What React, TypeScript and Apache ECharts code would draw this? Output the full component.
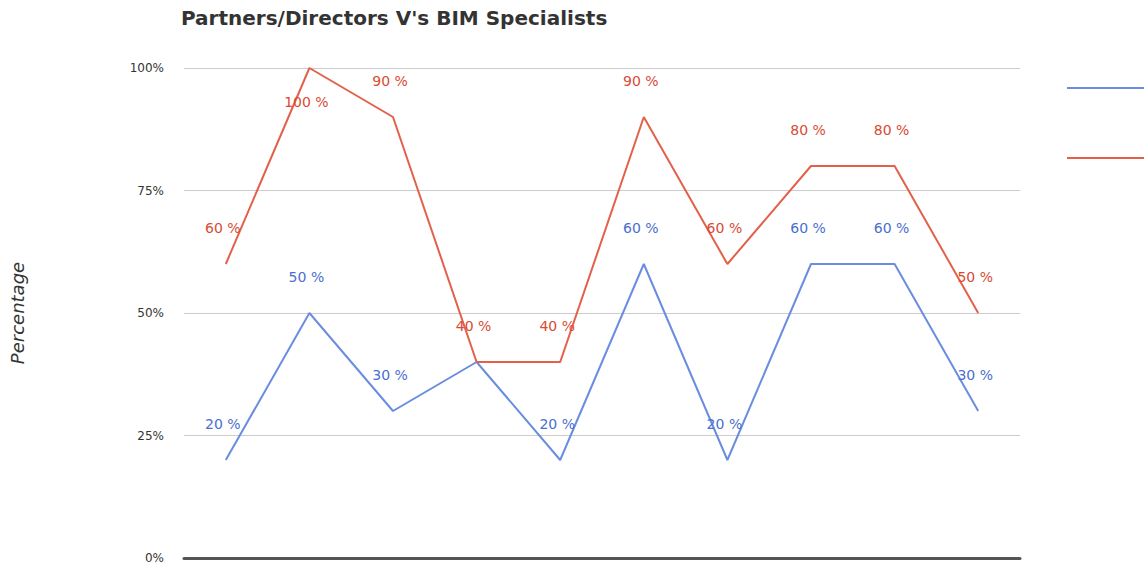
import React, { useEffect, useRef } from "react";
import * as echarts from "echarts";

const categories = ["1", "2", "3", "4", "5", "6", "7", "8", "9", "10"];
const partnersDirectors = [60, 100, 90, 40, 40, 90, 60, 80, 80, 50];
const bimSpecialists = [20, 50, 30, 40, 20, 60, 20, 60, 60, 30];
const yTicks = [0, 25, 50, 75, 100];

const BLUE_LINE = "#6a8de0";
const BLUE_TEXT = "#4a6fcf";
const RED_LINE = "#e3604b";
const RED_TEXT = "#d94a33";

export default function App() {
  const ref = useRef<HTMLDivElement>(null);
  useEffect(() => {
    if (!ref.current) return;
    const chart = echarts.init(ref.current, null, { renderer: "svg" });
    const labelBase = {
      show: true,
      position: "top",
      distance: 29,
      offset: [-3, 0],
      formatter: "{c} %",
      fontSize: 14,
      fontFamily: "DejaVu Sans",
    };
    const redData = partnersDirectors.map((v) =>
      v >= yTicks[yTicks.length - 1]
        ? { value: v, label: { position: "bottom", distance: 27 } }
        : v
    );
    const blueData = bimSpecialists.map((v, i) =>
      v === partnersDirectors[i] ? { value: v, label: { show: false } } : v
    );
    chart.setOption({
      animation: false,
      backgroundColor: "#ffffff",
      title: {
        text: "Partners/Directors V's BIM Specialists",
        left: 176,
        top: 3,
        textStyle: {
          fontFamily: "DejaVu Sans",
          fontWeight: "bold",
          fontSize: 20,
          color: "#333333",
        },
      },
      legend: {
        orient: "vertical",
        left: 1062,
        top: 82,
        itemGap: 68,
        itemWidth: 82,
        itemHeight: 2,
        icon: "rect",
        formatter: () => "",
        textStyle: { fontSize: 14 },
        data: ["BIM Specialists", "Partners/Directors"],
      },
      grid: { left: 182, right: 124, top: 68, bottom: 7 },
      xAxis: {
        type: "category",
        data: categories,
        boundaryGap: true,
        axisLine: { show: true, lineStyle: { color: "#555555", width: 3 } },
        axisTick: { show: false },
        axisLabel: { show: false },
        splitLine: { show: false },
      },
      yAxis: {
        type: "value",
        min: yTicks[0],
        max: yTicks[yTicks.length - 1],
        interval: 25,
        name: "Percentage",
        nameLocation: "middle",
        nameGap: 158,
        nameRotate: 90,
        nameTextStyle: {
          fontFamily: "DejaVu Sans",
          fontStyle: "italic",
          fontSize: 18,
          color: "#333333",
        },
        axisLine: { show: false },
        axisTick: { show: false },
        axisLabel: {
          formatter: "{value}%",
          margin: 20,
          fontFamily: "DejaVu Sans",
          fontSize: 12,
          color: "#333333",
        },
        splitLine: { lineStyle: { color: "#cccccc", width: 1 } },
      },
      series: [
        {
          name: "BIM Specialists",
          type: "line",
          data: blueData,
          symbol: "circle",
          symbolSize: 0.01,
          lineStyle: { color: BLUE_LINE, width: 2 },
          itemStyle: { color: BLUE_LINE },
          label: { ...labelBase, color: BLUE_TEXT },
          z: 3,
        },
        {
          name: "Partners/Directors",
          type: "line",
          data: redData,
          symbol: "circle",
          symbolSize: 0.01,
          lineStyle: { color: RED_LINE, width: 2 },
          itemStyle: { color: RED_LINE },
          label: { ...labelBase, color: RED_TEXT },
          z: 4,
        },
      ],
    });
    return () => chart.dispose();
  }, []);
  return (
    <div
      ref={ref}
      style={{ position: "fixed", left: 0, top: 0, width: 1144, height: 565 }}
    />
  );
}
